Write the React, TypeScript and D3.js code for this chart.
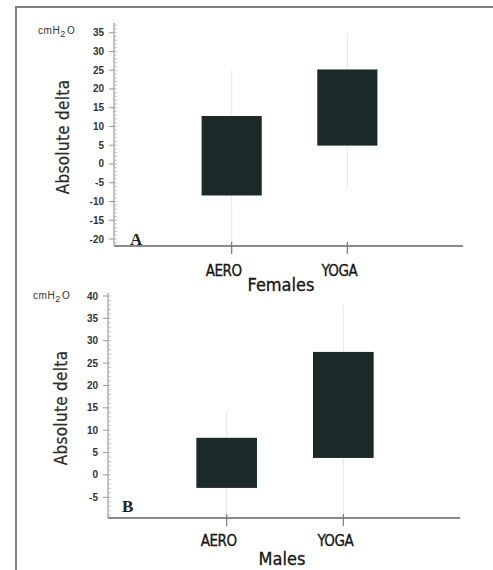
import React from "react";
import * as d3 from "d3";

const categories = ["AERO", "YOGA"];
// Panel A: Females
const femalesBoxLow = [-8.4, 4.9];
const femalesBoxHigh = [12.8, 25.2];
const femalesWhiskerLow = [-21, -6.4];
const femalesWhiskerHigh = [25, 35];
const femalesTicks = [35, 30, 25, 20, 15, 10, 5, 0, -5, -10, -15, -20];
// Panel B: Males
const malesBoxLow = [-2.9, 3.8];
const malesBoxHigh = [8.3, 27.5];
const malesWhiskerLow = [-9, -9];
const malesWhiskerHigh = [14, 38];
const malesTicks = [40, 35, 30, 25, 20, 15, 10, 5, 0, -5];

const BAR = "#1b2928";
const LABEL_FONT = "'DejaVu Sans Condensed', 'DejaVu Sans', sans-serif";

type PanelProps = {
  letter: string;
  title: string;
  ticks: number[];
  domain: [number, number];
  yRange: [number, number];
  axisTop: number;
  axisBottom: number;
  axisX: number;
  axisRight: number;
  minorFrom: number;
  minorTo: number;
  low: number[];
  high: number[];
  wLow: number[];
  wHigh: number[];
  unitY: number;
  unitX: number;
  titleX: number;
  titleY: number;
  letterX: number;
  letterY: number;
  catY: number;
  ylabX: number;
  ylabY: number;
};

function Panel(p: PanelProps) {
  const y = d3.scaleLinear().domain(p.domain).range(p.yRange);
  const x = d3.scalePoint<string>().domain(categories).range([p.axisX + 2, p.axisRight]).padding(1);
  const step = x.step();
  const bw = step * 0.52;
  const minors = d3.range(p.minorFrom, p.minorTo + 1);
  return (
    <g>
      {categories.map((c, i) => (
        <line key={"w" + c} x1={x(c)} x2={x(c)} y1={y(p.wHigh[i])} y2={y(p.wLow[i])} stroke="#e6e6e6" strokeWidth={1} />
      ))}
      {categories.map((c, i) => (
        <rect key={"b" + c} x={(x(c) as number) - bw / 2} width={bw} y={y(p.high[i])} height={y(p.low[i]) - y(p.high[i])} fill={BAR} />
      ))}
      <line x1={p.axisX} x2={p.axisX} y1={p.axisTop} y2={p.axisBottom} stroke="#9a9a9a" strokeWidth={1.2} />
      {minors.map((v) => (
        <line key={"m" + v} x1={p.axisX} x2={p.axisX + 3} y1={y(v)} y2={y(v)} stroke="#b5b5b5" strokeWidth={0.8} />
      ))}
      {p.ticks.map((v) => (
        <g key={"t" + v}>
          <line x1={p.axisX - 5} x2={p.axisX} y1={y(v)} y2={y(v)} stroke="#999" strokeWidth={1} />
          <text x={p.axisX - 10} y={y(v)} dy="0.35em" textAnchor="end" fontFamily="'Liberation Sans', Arial, sans-serif" fontWeight="bold" fontSize={10} fill="#333">
            {v}
          </text>
        </g>
      ))}
      <line x1={p.axisX} x2={p.axisRight} y1={p.axisBottom} y2={p.axisBottom} stroke="#8a8a8a" strokeWidth={2} />
      {categories.map((c) => (
        <g key={"c" + c}>
          <line x1={x(c)} x2={x(c)} y1={p.axisBottom - 4} y2={p.axisBottom + 8} stroke="#777" strokeWidth={1.2} />
          <text x={(x(c) as number) - 8} y={p.catY} textAnchor="middle" fontFamily={LABEL_FONT} fontSize={15} fill="#151515" letterSpacing={-0.5} stroke="#151515" strokeWidth={0.3}>
            {c}
          </text>
        </g>
      ))}
      <text x={p.unitX} y={p.unitY} fontFamily="'Liberation Sans', Arial, sans-serif" fontSize={10} fill="#333" letterSpacing={0.6}>
        cmH<tspan dy={3} fontSize={9}>2</tspan><tspan dy={-3} dx={1}>O</tspan>
      </text>
      <text transform={`translate(${p.ylabX},${p.ylabY}) rotate(-90)`} textAnchor="middle" fontFamily={LABEL_FONT} fontSize={17} fill="#2a2a2a" letterSpacing={0.3} stroke="#2a2a2a" strokeWidth={0.2}>
        Absolute delta
      </text>
      <text x={p.letterX} y={p.letterY} fontFamily="'Liberation Serif', serif" fontWeight="bold" fontSize={17} fill="#222">
        {p.letter}
      </text>
      <text x={p.titleX} y={p.titleY} textAnchor="middle" fontFamily={LABEL_FONT} fontSize={18} fill="#151515" stroke="#151515" strokeWidth={0.3}>
        {p.title}
      </text>
    </g>
  );
}

export default function App() {
  return (
    <svg width={493} height={570} style={{ position: "absolute", left: 0, top: 0, background: "#fff" }}>
      <rect x={0} y={0} width={493} height={570} fill="#fff" />
      <line x1={15} x2={493} y1={7} y2={7} stroke="#808080" strokeWidth={2} />
      <line x1={16} x2={16} y1={6} y2={570} stroke="#808080" strokeWidth={2} />
      <Panel
        letter="A"
        title="Females"
        ticks={femalesTicks}
        domain={[-20, 35]}
        yRange={[239, 32.7]}
        axisTop={23}
        axisBottom={246}
        axisX={114}
        axisRight={463}
        minorFrom={-21}
        minorTo={37}
        low={femalesBoxLow}
        high={femalesBoxHigh}
        wLow={femalesWhiskerLow}
        wHigh={femalesWhiskerHigh}
        unitX={38}
        unitY={34}
        titleX={281}
        titleY={291}
        letterX={130}
        letterY={245}
        catY={276}
        ylabX={69}
        ylabY={137}
      />
      <Panel
        letter="B"
        title="Males"
        ticks={malesTicks}
        domain={[-5, 40]}
        yRange={[497.3, 296]}
        axisTop={293}
        axisBottom={518}
        axisX={108}
        axisRight={460}
        minorFrom={-9}
        minorTo={40}
        low={malesBoxLow}
        high={malesBoxHigh}
        wLow={malesWhiskerLow}
        wHigh={malesWhiskerHigh}
        unitX={33}
        unitY={299}
        titleX={282}
        titleY={565}
        letterX={122}
        letterY={512}
        catY={546}
        ylabX={67}
        ylabY={408}
      />
    </svg>
  );
}
